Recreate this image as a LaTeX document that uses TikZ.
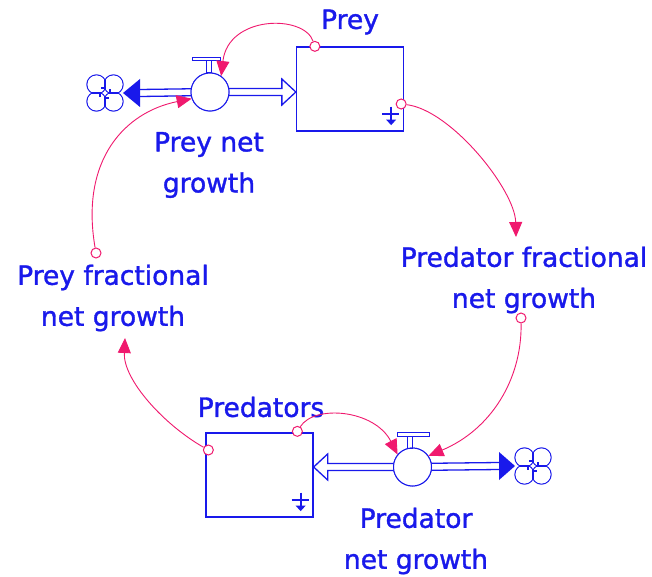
\documentclass[tikz,border=0pt]{standalone}
\usepackage{fontspec}
\setmainfont{DejaVu Sans}
\newfontfamily\lblfont{DejaVu Sans}[FakeBold=1.3]
\usetikzlibrary{arrows.meta,calc}
\definecolor{sdblue}{RGB}{25,25,235}
\definecolor{sdpink}{RGB}{240,25,110}
\begin{document}
\begin{tikzpicture}[x=1pt,y=-1pt,
  stock/.style={draw=sdblue,line width=1.3pt,minimum width=107pt,minimum height=84pt,inner sep=0},
  valve/.style={circle,draw=sdblue,line width=1pt,minimum size=38pt,inner sep=0,fill=white},
  lbl/.style={text=sdblue,font=\lblfont\fontsize{26.5}{41}\selectfont,align=center,inner sep=0},
  pipe/.style={draw=sdblue,line width=1.3pt},
  link/.style={draw=sdpink,line width=0.9pt,-{Triangle[length=15pt,width=13pt]}},
  tail/.style={circle,draw=sdpink,line width=1pt,minimum size=10pt,inner sep=0,fill=white},
  lobe/.style={draw=sdblue,line width=1.2pt},
  sym/.style={draw=sdblue,line width=1.9pt}
]
\useasboundingbox (0,0) rectangle (652,577);
\fill[white] (0,0) rectangle (652,577);

% stocks
\node[stock] (prey) at (350,89) {};
\node[stock] (pred) at (259.5,475) {};

% stock symbols
\foreach \s in {prey,pred}{
  \draw[sym] ($(\s.south east)+(-22,-18)$) -- ($(\s.south east)+(-5,-18)$);
  \draw[sym] ($(\s.south east)+(-13,-25)$) -- ($(\s.south east)+(-13,-8)$);
  \fill[sdblue] ($(\s.south east)+(-18,-12)$) -- ($(\s.south east)+(-8,-12)$) -- ($(\s.south east)+(-13,-6.5)$) -- cycle;
}

% valves
\node[valve] (pv) at (210,92) {};
\node[valve] (dv) at (412.5,467) {};

% clouds (four-lobed with pinwheel strokes)
\coordinate (cl1) at (105,93);
\coordinate (cl2) at (533,466);
\foreach \c in {cl1,cl2}{
  \foreach \dx/\dy in {-8.5/-8.5,8.5/-8.5,-8.5/8.5,8.5/8.5}
    \draw[lobe] ($(\c)+(\dx,\dy)$) circle (9.6pt);
  \foreach \dx/\dy in {-8.5/-8.5,8.5/-8.5,-8.5/8.5,8.5/8.5}
    \fill[white] ($(\c)+(\dx,\dy)$) circle (9pt);
  \draw[lobe] ($(\c)+(0,-13)$) -- ($(\c)+(0,-5)$) -- ($(\c)+(-4,-5)$);
  \draw[lobe] ($(\c)+(13,0)$) -- ($(\c)+(5,0)$) -- ($(\c)+(5,-4)$);
  \draw[lobe] ($(\c)+(0,13)$) -- ($(\c)+(0,5)$) -- ($(\c)+(4,5)$);
  \draw[lobe] ($(\c)+(-13,0)$) -- ($(\c)+(-5,0)$) -- ($(\c)+(-5,4)$);
}

% prey flow
\coordinate (pt1) at ($(cl1)+(18,0)$);
\coordinate (pb1) at ($(pt1)+(17,0)$);
\coordinate (pt2) at (prey.west |- pv.center);
\coordinate (pb2) at ($(pt2)+(-14,0)$);
\draw[pipe] ($(pv.center)+(0,-3.5)$) -- ($(pb1)+(0,-3.5)$);
\draw[pipe] ($(pv.center)+(0,3.5)$) -- ($(pb1)+(0,3.5)$);
\fill[sdblue] (pt1) -- ($(pb1)+(0,-14)$) -- ($(pb1)+(0,14)$) -- cycle;
\draw[pipe,line join=miter] ($(pv.center)+(0,-3.5)$) -- ($(pb2)+(0,-3.5)$) -- ($(pb2)+(0,-13)$) -- (pt2) -- ($(pb2)+(0,13)$) -- ($(pb2)+(0,3.5)$) -- ($(pv.center)+(0,3.5)$);
\node[valve] at (pv.center) {};
\draw[sdblue,line width=1pt] ($(pv.center)+(-18,-34)$) rectangle ($(pv.center)+(10,-31)$);
\draw[sdblue,line width=1pt] ($(pv.center)+(-4,-31)$) rectangle ($(pv.center)+(1,-19)$);

% predator flow
\coordinate (dt1) at ($(cl2)+(-18,0)$);
\coordinate (db1) at ($(dt1)+(-16,0)$);
\coordinate (dt2) at (pred.east |- dv.center);
\coordinate (db2) at ($(dt2)+(14,0)$);
\draw[pipe] ($(dv.center)+(0,-3.5)$) -- ($(db1)+(0,-3.5)$);
\draw[pipe] ($(dv.center)+(0,3.5)$) -- ($(db1)+(0,3.5)$);
\fill[sdblue] (dt1) -- ($(db1)+(0,-14)$) -- ($(db1)+(0,14)$) -- cycle;
\draw[pipe,line join=miter] ($(dv.center)+(0,-3.5)$) -- ($(db2)+(0,-3.5)$) -- ($(db2)+(0,-13)$) -- (dt2) -- ($(db2)+(0,13)$) -- ($(db2)+(0,3.5)$) -- ($(dv.center)+(0,3.5)$);
\node[valve] at (dv.center) {};
\draw[sdblue,line width=1pt] ($(dv.center)+(-15,-35)$) rectangle ($(dv.center)+(17,-31)$);
\draw[sdblue,line width=1pt] ($(dv.center)+(-5,-31)$) rectangle ($(dv.center)+(0,-19)$);

% labels
\node[lbl] (preyL) at (350,22) {Prey};
\node[lbl] (pvL) at (209,165) {Prey net\\growth};
\node[lbl] (pfL) at (113,298) {Prey fractional\\net growth};
\node[lbl] (dfL) at (524,280) {Predator fractional\\net growth};
\node[lbl] (predL) at (261,407) {Predators};
\node[lbl] (dvL) at (416,541) {Predator\\net growth};

% link tails and targets
\node[tail] (s1) at ($(prey.north west)+(19,0)$) {};
\node[tail] (s2) at ($(prey.east)+(-3,15)$) {};
\node[tail] (s3) at (96,253) {};
\node[tail] (s4) at (521,318) {};
\node[tail] (s5) at ($(pred.north west)+(92,-1)$) {};
\node[tail] (s6) at ($(pred.west)+(3,-25)$) {};
\coordinate (a2) at (516,237);
\coordinate (a6) at (125,338);

% links
\draw[link] (s1) .. controls +(-11,-32) and +(7,-61) .. (pv.55);
\draw[link] (s2) .. controls +(50,6) and +(-1,-47) .. (a2);
\draw[link] (s3) .. controls +(-16,-93) and +(-67,13.5) .. (pv.200);
\draw[link] (s4) .. controls +(1,62) and +(62,-26) .. (dv.35);
\draw[link] (s5) .. controls +(17,-27) and +(-23,-45) .. (dv.140);
\draw[link] (s6) .. controls +(-44,-25) and +(-2,42) .. (a6);
\end{tikzpicture}
\end{document}
